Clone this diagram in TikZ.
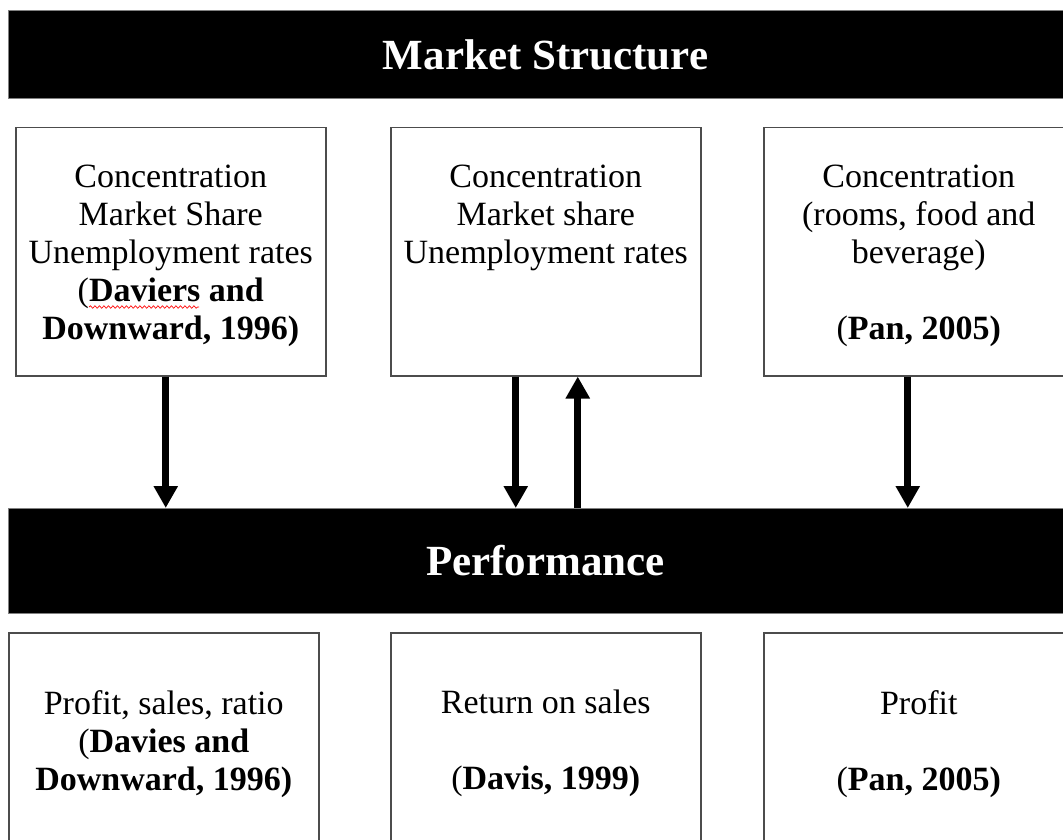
\documentclass[tikz,border=0pt]{standalone}
\usepackage{fontspec}
\setmainfont{Liberation Serif}
\usetikzlibrary{positioning,arrows.meta,decorations.pathmorphing}

\tikzset{
	bar/.style={fill=black, draw=gray, line width=1pt, anchor=north west, inner sep=0pt,
		minimum width=1074pt, minimum height=#1, text=white,
		font=\fontsize{43}{48}\selectfont\bfseries},
	box/.style={draw=black!70, line width=1.5pt, fill=white, anchor=north west,
		minimum width=310pt, minimum height=#1},
	boxtext/.style={align=center, inner sep=0pt, anchor=north,
		font=\fontsize{34}{38}\selectfont},
	flow/.style={line width=7pt, -{Triangle[width=23pt,length=22pt]}}
}

\begin{document}
\begin{tikzpicture}[x=1pt,y=-1pt]

	\clip (0,0) rectangle (1063,840);
	\fill[white] (0,0) rectangle (1063,840);

	% the two bars
	\node[bar=88pt] (struct) at (8,10) {Market Structure};
	\node[bar=105pt] (perf) at (8,508) {Performance};

	% structure boxes
	\node[box=248pt] (s1) at (15,127) {};
	\node[box=248pt] (s2) at (390,127) {};
	\node[box=248pt] (s3) at (763,127) {};

	\node[boxtext, below=38pt of s1.north] (t1) {Concentration\\Market Share\\Unemployment rates\\(\textbf{Daviers and}\\\textbf{Downward, 1996)}};
	\node[boxtext, below=38pt of s2.north] (t2) {Concentration\\Market share\\Unemployment rates};
	\node[boxtext, below=38pt of s3.north] (t3) {Concentration\\(rooms, food and\\beverage)\\[38pt](\textbf{Pan, 2005)}};

	\draw[red, line width=0.7pt, decorate, decoration={snake, amplitude=1.2pt, segment length=4.5pt}] (89,307) -- (199,307);

	% performance boxes
	\node[box=260pt] (p1) at (8,632) {};
	\node[box=260pt] (p2) at (390,632) {};
	\node[box=260pt] (p3) at (763,632) {};

	\node[boxtext, below=58pt of p1.north] (u1) {Profit, sales, ratio\\(\textbf{Davies and}\\\textbf{Downward, 1996)}};
	\node[boxtext, below=58pt of p2.north] (u2) {Return on sales\\[38pt](\textbf{Davis, 1999)}};
	\node[boxtext, below=58pt of p3.north] (u3) {Profit\\[38pt](\textbf{Pan, 2005)}};

	% arrows
	\draw[flow] ([xshift=-5pt]s1.south) -- ([xshift=-5pt]s1.south |- perf.north);
	\draw[flow] ([xshift=-30pt]s2.south) -- ([xshift=-30pt]s2.south |- perf.north);
	\draw[flow] ([xshift=32pt]s2.south |- perf.north) -- ([xshift=32pt]s2.south);
	\draw[flow] ([xshift=-11pt]s3.south) -- ([xshift=-11pt]s3.south |- perf.north);

\end{tikzpicture}
\end{document}
